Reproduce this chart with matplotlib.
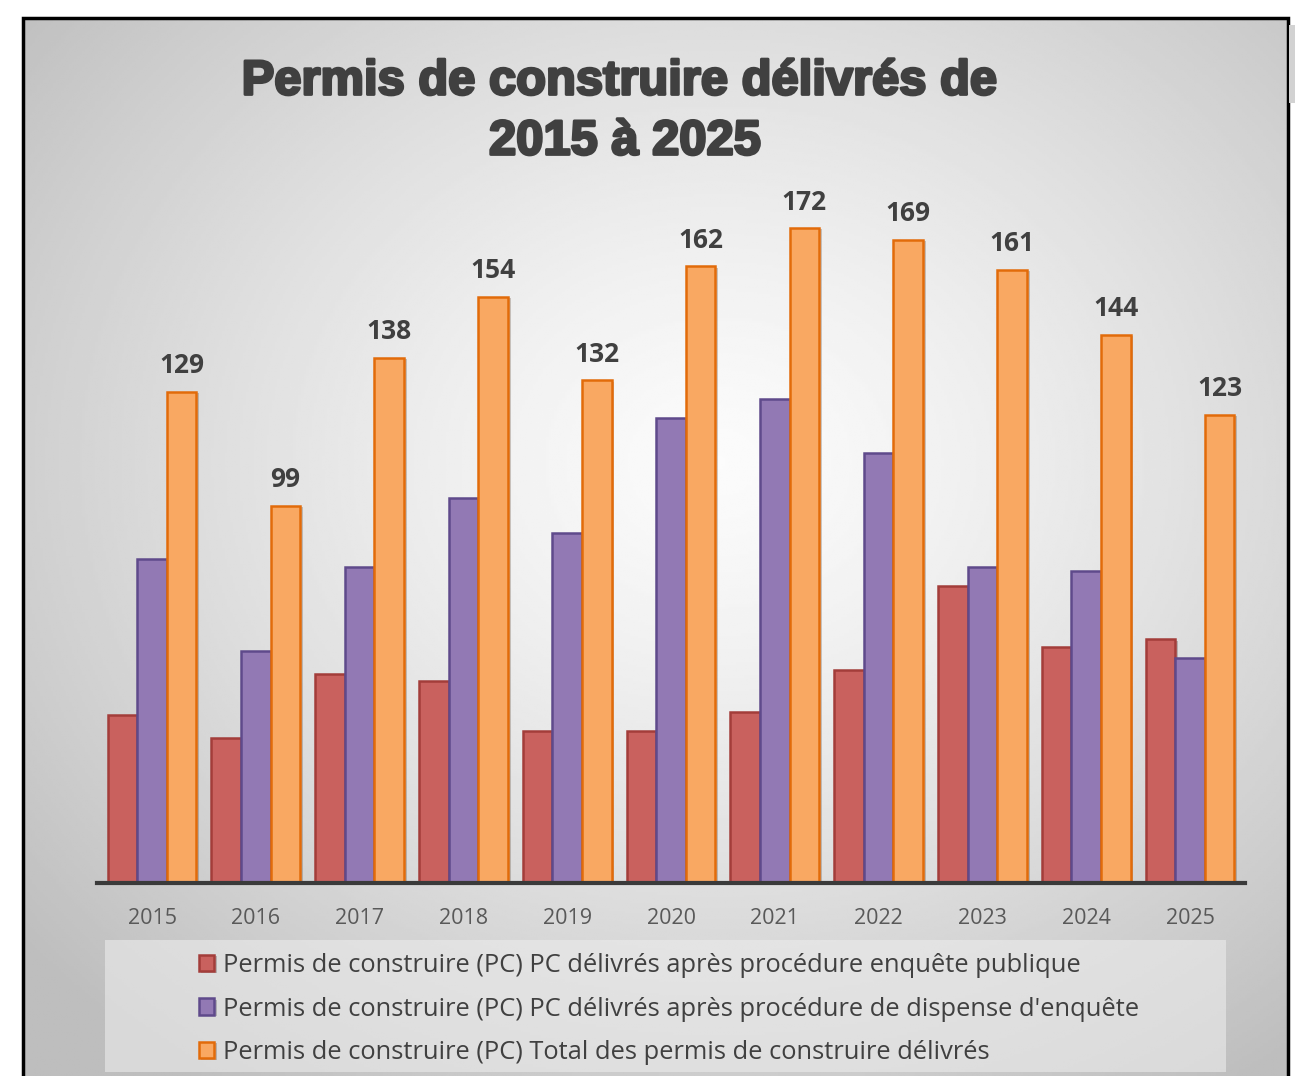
import numpy as np
import matplotlib.pyplot as plt
from matplotlib.patches import Rectangle
from matplotlib import patheffects as pe

annees = ['2015', '2016', '2017', '2018', '2019', '2020', '2021', '2022', '2023', '2024', '2025']
enquete_publique = [44, 38, 55, 53, 40, 40, 45, 56, 78, 62, 64]
dispense_enquete = [85, 61, 83, 101, 92, 122, 127, 113, 83, 82, 59]
total = [129, 99, 138, 154, 132, 162, 172, 169, 161, 144, 123]

series = [
    ("Permis de construire (PC) PC délivrés après procédure enquête publique", enquete_publique, '#c9615e', '#a33d3a'),
    ("Permis de construire (PC) PC délivrés après procédure de dispense d'enquête", dispense_enquete, '#9279b4', '#5f4a8b'),
    ("Permis de construire (PC) Total des permis de construire délivrés", total, '#f9a862', '#e26b0a'),
]

W, H = 1295, 1076
fig = plt.figure(figsize=(W / 100, H / 100), dpi=100)
fig.patch.set_facecolor('white')

# fond en dégradé radial
bg = fig.add_axes([23 / W, 0, (1288 - 23) / W, 1 - 18 / H], zorder=0)
yy, xx = np.mgrid[0:1:400j, 0:1:480j]
d = np.sqrt(((xx - 0.55) / 0.62) ** 2 + ((yy - 0.42) / 0.62) ** 2)
vals = 0.985 - 0.20 * np.clip(d, 0, 1.15) ** 1.3
bg.imshow(vals, cmap='gray', vmin=0, vmax=1, aspect='auto', extent=[0, 1, 1, 0])
bg.axis('off')
fig.patches.append(Rectangle((23 / W, -0.01), (1288 - 23) / W, 1.01 - 18 / H, transform=fig.transFigure,
                             fill=False, edgecolor='black', linewidth=2.5, zorder=5))
fig.patches.append(Rectangle((1289 / W, 1 - 103 / H), 8 / W, 78 / H, transform=fig.transFigure,
                             facecolor='#d2d2d2', edgecolor='none', zorder=5))

ax = fig.add_axes([97 / W, 1 - 883 / H, (1245 - 97) / W, (883 - 190) / H], zorder=2)
ax.patch.set_alpha(0)
x = np.arange(len(annees))
bw = 0.285
shadow = [pe.SimplePatchShadow(offset=(2, -1), alpha=0.25), pe.Normal()]
for i, (nom, vals_s, fc, ec) in enumerate(series):
    bars = ax.bar(x + (i - 1) * bw, vals_s, bw, color=fc, edgecolor=ec, linewidth=1.8, label=nom)
    for b in bars:
        b.set_path_effects(shadow)

for xi, v in zip(x, total):
    ax.text(xi + bw, v + 3.3, str(v), ha='center', va='bottom', fontsize=19,
            fontweight='bold', color='#404040', family='Open Sans')

ax.set_xlim(-0.53, 10.53)
ax.set_ylim(0, 182)
ax.set_xticks(x)
ax.set_xticklabels(annees, fontsize=15.5, color='#595959', family='Open Sans')
ax.tick_params(axis='x', length=0, pad=18)
ax.set_yticks([])
for s in ['top', 'right', 'left']:
    ax.spines[s].set_visible(False)
ax.spines['bottom'].set_color('#3a3a3a')
ax.spines['bottom'].set_linewidth(3)

heavy = [pe.withStroke(linewidth=2.0, foreground='#404040')]
fig.text(619 / W, 1 - 82 / H, "Permis de construire délivrés de", ha='center', va='center',
         fontsize=35.2, fontweight='bold', color='#404040', family='Liberation Sans', zorder=6,
         path_effects=heavy)
fig.text(625 / W, 1 - 142 / H, "2015 à 2025", ha='center', va='center',
         fontsize=35.2, fontweight='bold', color='#404040', family='Liberation Sans', zorder=6,
         path_effects=heavy)

# légende
fig.patches.append(Rectangle((105 / W, 1 - 1072 / H), (1226 - 105) / W, (1072 - 940) / H,
                             transform=fig.transFigure, facecolor='#ececec', alpha=0.6,
                             edgecolor='none', zorder=1))
leg = fig.legend(loc='center', bbox_to_anchor=(669 / W, 1 - 1009 / H), ncol=1, frameon=False,
                 prop={'family': 'Open Sans', 'size': 18.4}, labelcolor='#404040',
                 handlelength=0.62, handleheight=0.62, handletextpad=0.35, labelspacing=0.72,
                 borderpad=0)

fig.savefig('out.png', dpi=100)
